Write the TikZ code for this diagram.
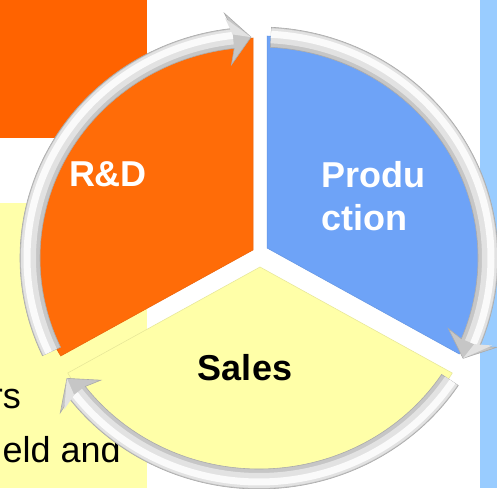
\documentclass[tikz,border=0pt]{standalone}
\usepackage{fontspec}
\setmainfont{Liberation Sans}
\definecolor{panelorange}{HTML}{FF6300}
\definecolor{panelyellow}{HTML}{FFFFAA}
\definecolor{panelblue}{HTML}{99CCFF}
\definecolor{rdorange}{HTML}{FF6C08}
\definecolor{prodblue}{HTML}{6EA3F7}
\definecolor{salesyellow}{HTML}{FFFFA8}
\definecolor{ringbase}{HTML}{C6C6C6}
\definecolor{ringline}{HTML}{ABABAB}
\definecolor{ringmidc}{HTML}{E2E2E2}
\definecolor{ringhic}{HTML}{FAFAFA}

% one grey cycle arrow on the ring, running clockwise
% #1 = tail angle, #2 = angle of the arrow tip (ellipse parameter)
\newcommand\ringarrow[2]{%
  \pgfmathsetmacro\hj{#2+4.5}%
  \pgfmathsetmacro\hw{#2+5.8}%
  \filldraw[ringbody] (#1:239 and 231)
    arc[start angle=#1,end angle=\hj,x radius=239,y radius=231]
    -- (\hw:255 and 247) -- (#2:229 and 221) -- (\hw:203 and 195)
    -- (\hj:219 and 211)
    arc[start angle=\hj,end angle=#1,x radius=219,y radius=211] -- cycle;
  \draw[ringmid] (#1:230.5 and 222.5)
    arc[start angle=#1,end angle=\hj,x radius=230.5,y radius=222.5];
  \draw[ringhi] (#1:232 and 224)
    arc[start angle=#1,end angle=\hj,x radius=232,y radius=224];
  \fill[ringmidc] (\hw:250 and 242) -- (#2:229 and 221) -- (\hj:233 and 225) -- cycle;
}

\begin{document}
\begin{tikzpicture}[x=1pt,y=1pt,
  ringbody/.style={fill=ringbase,draw=ringline,line width=0.6},
  ringmid/.style={draw=ringmidc,line width=15},
  ringhi/.style={draw=ringhic,line width=7},
  sector/.style={line width=0.5},
  biglabel/.style={inner sep=0,font=\fontsize{36}{43}\selectfont\bfseries},
  sidetext/.style={inner sep=0,font=\fontsize{36}{43}\selectfont,text=black}]
\useasboundingbox (0,0) rectangle (497,488);
\fill[white] (0,0) rectangle (497,488);

% backdrop panels
\fill[panelorange] (0,350) rectangle (147,488);
\fill[panelyellow] (0,0) rectangle (147,285);
\fill[panelblue] (480,0) rectangle (497,488);

% text on the yellow panel
\begin{scope}
  \clip (0,0) rectangle (147,285);
  \node[sidetext,anchor=base east] (t1) at (21,80) {rs};
  \node[sidetext,anchor=base east] (t2) at (121,26) {eld and};
\end{scope}

% exploded three-part pie
\fill[rdorange,draw=rdorange!92!black,sector] (253,238) -- ++(0,212)
  arc[start angle=90,end angle=210,x radius=222,y radius=212] -- cycle;
\fill[prodblue,draw=prodblue!92!black,sector] (267,240) -- ++(0,212)
  arc[start angle=90,end angle=-30,x radius=222,y radius=212] -- cycle;
\fill[salesyellow,draw=salesyellow!90!black,sector] (260,221) -- ++({222*cos(210)},{212*sin(210)})
  arc[start angle=210,end angle=330,x radius=222,y radius=212] -- cycle;

% cycle ring
\begin{scope}[shift={(259,230)}]
  \ringarrow{205}{92}
  \ringarrow{87}{-27}
  \ringarrow{-33.5}{-147}
\end{scope}

% sector labels
\node[biglabel,text=white,anchor=base] (rd) at (108,302) {R\&D};
\node[biglabel,text=white,anchor=base west] (prod1) at (321,301) {Produ};
\node[biglabel,text=white,anchor=base west] (prod2) at (321,258) {ction};
\node[biglabel,text=black,anchor=base] (sales) at (245,108) {Sales};
\end{tikzpicture}
\end{document}
